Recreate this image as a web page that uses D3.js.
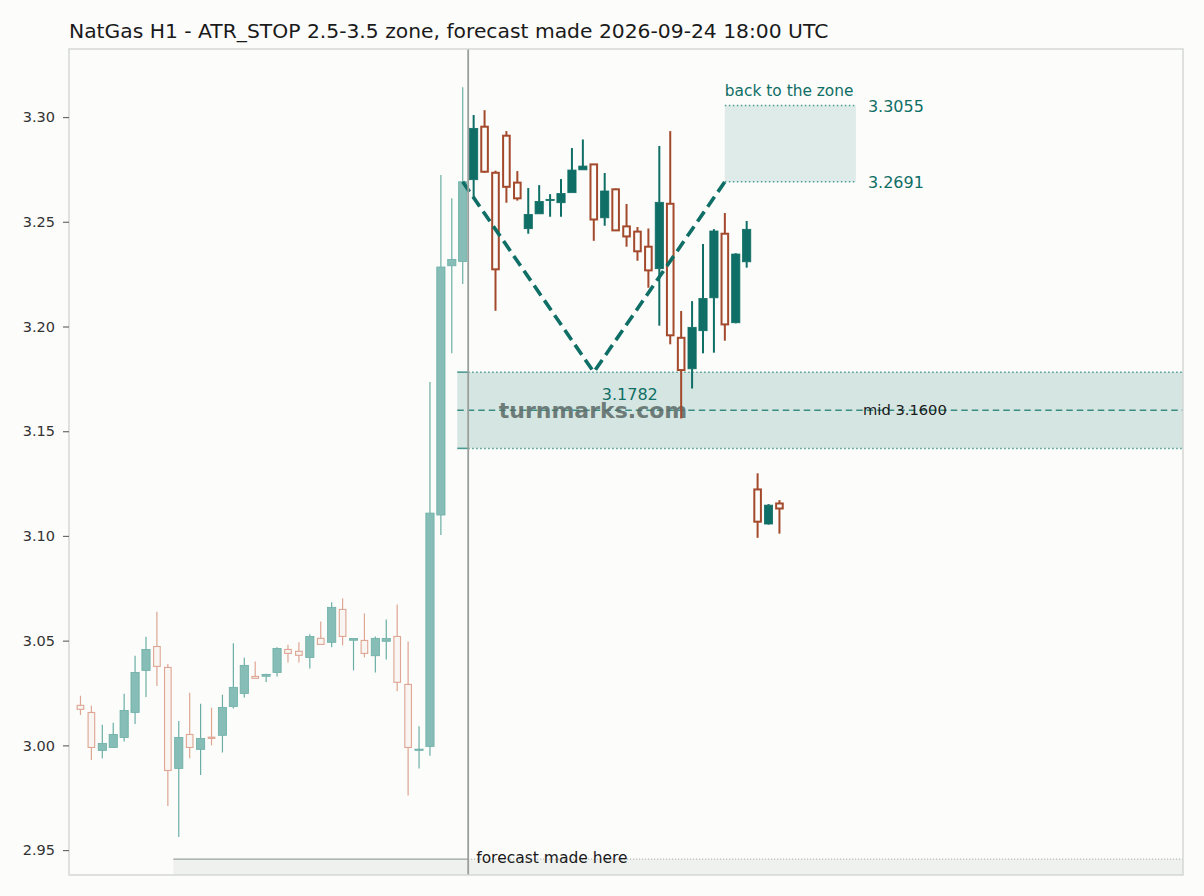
<!DOCTYPE html>
<html><head><meta charset="utf-8">
<script src="https://cdn.jsdelivr.net/npm/d3@7"></script>
<style>
html,body{margin:0;padding:0;background:#fcfcfa;}
svg{display:block;font-family:"DejaVu Sans",sans-serif;}
</style></head>
<body><svg id="c" width="1204" height="896"></svg>
<script>
// ---- data ----
const title = "NatGas H1 - ATR_STOP 2.5-3.5 zone, forecast made 2026-09-24 18:00 UTC";
const forecastStart = 36; // first forecast candle index
const opens  = [3.0191,3.0157,2.9976,2.9990,3.0038,3.0157,3.0358,3.0472,3.0372,2.9890,3.0052,2.9981,3.0039,3.0048,3.0186,3.0248,3.0329,3.0330,3.0348,3.0458,3.0449,3.0420,3.0511,3.0492,3.0649,3.0502,3.0501,3.0428,3.0497,3.0520,3.0291,2.9980,2.9995,3.1100,3.2290,3.2310,
                3.2701,3.2954,3.2734,3.2911,3.2687,3.2467,3.2538,3.2602,3.2591,3.2639,3.2748,3.2774,3.2519,3.2655,3.2478,3.2453,3.2381,3.2276,3.2586,3.1946,3.1798,3.1980,3.2137,3.2443,3.2018,3.2309,3.1222,3.1057,3.1155];
const highs  = [3.0237,3.0189,3.0098,3.0108,3.0247,3.0428,3.0519,3.0638,3.0388,3.0116,3.0251,3.0199,3.0180,3.0242,3.0487,3.0418,3.0401,3.0342,3.0468,3.0480,3.0492,3.0530,3.0592,3.0683,3.0702,3.0511,3.0630,3.0520,3.0601,3.0673,3.0496,3.0091,3.1735,3.2723,3.2612,3.3142,
                3.3010,3.3033,3.2744,3.2933,3.2742,3.2661,3.2675,3.2632,3.2704,3.2852,3.2893,3.2774,3.2733,3.2659,3.2585,3.2475,3.2468,3.2862,3.2933,3.2074,3.2121,3.2394,3.2465,3.2542,3.2350,3.2504,3.1299,3.1152,3.1171];
const lows   = [3.0145,2.9930,2.9938,2.9989,3.0019,3.0102,3.0231,3.0283,2.9710,2.9562,2.9939,2.9858,3.0000,2.9966,3.0176,3.0229,3.0318,3.0302,3.0329,3.0396,3.0396,3.0367,3.0482,3.0468,3.0477,3.0358,3.0420,3.0348,3.0410,3.0258,2.9761,2.9890,2.9950,3.1004,3.1872,3.2203,
                3.2612,3.2734,3.2075,3.2591,3.2601,3.2443,3.2538,3.2524,3.2524,3.2639,3.2748,3.2409,3.2481,3.2459,3.2381,3.2314,3.2185,3.2004,3.1915,3.1561,3.1704,3.1872,3.1875,3.1932,3.2015,3.2281,3.0991,3.1054,3.1011];
const closes = [3.0172,2.9990,3.0009,3.0052,3.0167,3.0348,3.0458,3.0377,2.9880,3.0038,2.9990,3.0033,3.0037,3.0181,3.0277,3.0382,3.0320,3.0339,3.0463,3.0439,3.0430,3.0520,3.0482,3.0659,3.0520,3.0510,3.0439,3.0511,3.0510,3.0301,2.9990,2.9982,3.1109,3.2284,3.2320,3.2691,
                3.2946,3.2739,3.2273,3.2667,3.2612,3.2535,3.2597,3.2607,3.2635,3.2747,3.2766,3.2511,3.2647,3.2459,3.2430,3.2359,3.2268,3.2593,3.1958,3.1792,3.1996,3.2134,3.2456,3.2010,3.2346,3.2464,3.1068,3.1147,3.1131];
const yTicks = [2.95,3.00,3.05,3.10,3.15,3.20,3.25,3.30];
const zoneLow = 3.1418, zoneHigh = 3.1782, zoneMid = 3.16, zoneStart = 34.5;
const targetLow = 3.2691, targetHigh = 3.3055, targetFrom = 59, targetTo = 71;
const pathIdx = [35,47,59];
const pathVal = [3.2691,3.1782,3.2691];
const stopLevel = 2.9457, stopFrom = 8.5;
const forecastAt = 35.5;

// ---- layout ----
const L=69,R=1183,T=49,B=875;
const svg=d3.select("#c");
const x=d3.scaleLinear().domain([-1.05,100.95]).range([L,R]);
const y=d3.scaleLinear().domain([2.9381,3.3325]).range([B,T]);
const bw=8.2;
const bg="#fcfcfa";
const teal="#0f6e65", brown="#a3492c";
const hTeal="#86bdb6", hTealS="#6aaea5", hSalmon="#dea593";

svg.append("rect").attr("width",1204).attr("height",896).attr("fill",bg);

// title
svg.append("text").attr("x",L).attr("y",38).attr("font-size",20.3).attr("fill","#1a1a1a").text(title);

const g=svg.append("g");
svg.append("clipPath").attr("id","pc").append("rect").attr("x",L).attr("y",T).attr("width",R-L).attr("height",B-T);
const pg=g.append("g").attr("clip-path","url(#pc)");

// stop band at bottom
pg.append("rect").attr("x",x(stopFrom)).attr("y",y(stopLevel)).attr("width",R-x(stopFrom)).attr("height",B-y(stopLevel)).attr("fill","#eff1ee");
pg.append("line").attr("x1",x(stopFrom)).attr("x2",x(forecastAt)).attr("y1",y(stopLevel)).attr("y2",y(stopLevel)).attr("stroke","#9aa09c").attr("stroke-width",1.3);
pg.append("line").attr("x1",x(forecastAt)).attr("x2",R).attr("y1",y(stopLevel)).attr("y2",y(stopLevel)).attr("stroke","#9aa09c").attr("stroke-width",1).attr("stroke-dasharray","1,2");

// zone
pg.append("rect").attr("x",x(zoneStart)).attr("y",y(zoneHigh)).attr("width",R-x(zoneStart)).attr("height",y(zoneLow)-y(zoneHigh)).attr("fill","#d5e6e2");
[zoneLow,zoneHigh].forEach(v=>{
  pg.append("line").attr("x1",x(zoneStart)).attr("x2",x(forecastAt)).attr("y1",y(v)).attr("y2",y(v)).attr("stroke","#4b9a91").attr("stroke-width",1.6);
  pg.append("line").attr("x1",x(forecastAt)).attr("x2",R).attr("y1",y(v)).attr("y2",y(v)).attr("stroke","#4b9a91").attr("stroke-width",1.5).attr("stroke-dasharray","1.5,2.5");
});
pg.append("line").attr("x1",x(zoneStart)).attr("x2",R).attr("y1",y(zoneMid)).attr("y2",y(zoneMid)).attr("stroke","#3a8c83").attr("stroke-width",1.6).attr("stroke-dasharray","6.5,4");

// target box
pg.append("rect").attr("x",x(targetFrom)).attr("y",y(targetHigh)).attr("width",x(targetTo)-x(targetFrom)).attr("height",y(targetLow)-y(targetHigh)).attr("fill","#deebe8");
[targetLow,targetHigh].forEach(v=>{
  pg.append("line").attr("x1",x(targetFrom)).attr("x2",x(targetTo)).attr("y1",y(v)).attr("y2",y(v)).attr("stroke","#4b9a91").attr("stroke-width",1.5).attr("stroke-dasharray","1.5,2.5");
});

// watermark
pg.append("text").attr("x",593).attr("y",y(zoneMid)+7.5).attr("text-anchor","middle").attr("font-size",22).attr("font-weight","bold").attr("fill","#5a6966").attr("fill-opacity",0.85).text("turnmarks.com");

// candles
const idx=d3.range(opens.length);
idx.forEach(i=>{
  const o=opens[i],h=highs[i],l=lows[i],c=closes[i];
  const up=c>=o, hist=i<forecastStart;
  const col = hist ? (up?hTealS:hSalmon) : (up?teal:brown);
  const cx=x(i);
  const top=y(Math.max(o,c)), bot=y(Math.min(o,c));
  const cg=pg.append("g");
  cg.append("line").attr("x1",cx).attr("x2",cx).attr("y1",y(h)).attr("y2",top).attr("stroke",col).attr("stroke-width",hist?1.2:2);
  cg.append("line").attr("x1",cx).attr("x2",cx).attr("y1",bot).attr("y2",y(l)).attr("stroke",col).attr("stroke-width",hist?1.2:2);
  const bh=Math.max(bot-top,1.2);
  if(up){
    cg.append("rect").attr("x",cx-bw/2).attr("y",top).attr("width",bw).attr("height",bh)
      .attr("fill",hist?hTeal:teal).attr("stroke",hist?hTealS:teal).attr("stroke-width",0.8);
  } else {
    cg.append("rect").attr("x",cx-bw/2+0.8).attr("y",top).attr("width",bw-1.6).attr("height",bh)
      .attr("fill",hist?"rgba(222,165,147,0.08)":"none").attr("stroke",col).attr("stroke-width",hist?1.1:2);
  }
});

// path
const line=d3.line().x((d,i)=>x(pathIdx[i])).y(d=>y(d));
pg.append("path").attr("d",line(pathVal)).attr("fill","none").attr("stroke",teal).attr("stroke-width",3.6).attr("stroke-dasharray","12,6");

// forecast vertical line
pg.append("line").attr("x1",x(forecastAt)).attr("x2",x(forecastAt)).attr("y1",T).attr("y2",B).attr("stroke","#9a9f9b").attr("stroke-width",1.8);

// labels
g.append("text").attr("x",x(47)+36).attr("y",y(zoneHigh)+28).attr("text-anchor","middle").attr("font-size",16).attr("fill",teal).text("3.1782");
g.append("text").attr("x",863).attr("y",y(zoneMid)+5).attr("font-size",14.7).attr("fill","#1a1a1a").text("mid 3.1600");
g.append("text").attr("x",x(targetFrom)).attr("y",y(targetHigh)-10).attr("font-size",15.4).attr("fill",teal).text("back to the zone");
g.append("text").attr("x",x(targetTo)+12).attr("y",y(targetHigh)+6).attr("font-size",16).attr("fill",teal).text("3.3055");
g.append("text").attr("x",x(targetTo)+12).attr("y",y(targetLow)+6).attr("font-size",16).attr("fill",teal).text("3.2691");
g.append("text").attr("x",x(forecastAt)+8).attr("y",y(stopLevel)+4).attr("font-size",15.5).attr("fill","#1a1a1a").text("forecast made here");

// frame
svg.append("rect").attr("x",L).attr("y",T).attr("width",R-L).attr("height",B-T).attr("fill","none").attr("stroke","#d3d7d3").attr("stroke-width",1.5);

// y axis
const ax=svg.append("g").attr("transform",`translate(${L},0)`)
  .call(d3.axisLeft(y).tickValues(yTicks).tickFormat(d3.format(".2f")).tickSize(6).tickPadding(8));
ax.select(".domain").remove();
ax.selectAll(".tick line").attr("stroke","#6b6b6b").attr("stroke-width",1.2);
ax.selectAll(".tick text").attr("font-size",14.5).attr("fill","#333").attr("font-family","DejaVu Sans, sans-serif");
</script></body></html>
